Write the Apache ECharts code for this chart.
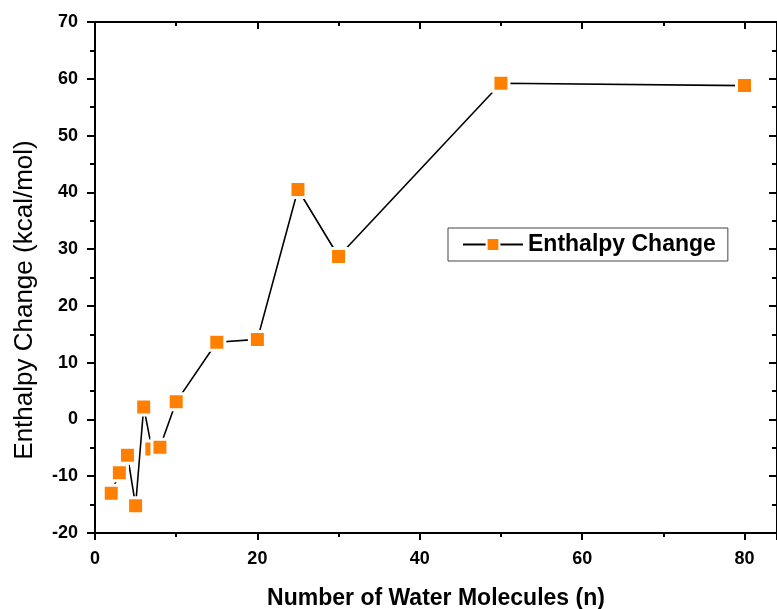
<!DOCTYPE html>
<html>
<head>
<meta charset="utf-8">
<script src="https://cdn.jsdelivr.net/npm/echarts@6/dist/echarts.min.js"></script>
<style>
  html, body { margin: 0; padding: 0; background: #fff; }
  #main { width: 777px; height: 609px; }
</style>
</head>
<body>
<div id="main"></div>
<script>
// 水分子数与焓变
var waterCount = [2, 3, 4, 5, 6, 7, 8, 10, 15, 20, 25, 30, 50, 80];
var enthalpy = [-13.0, -9.4, -6.3, -15.2, 2.2, -5.2, -4.9, 3.1, 13.6, 14.1, 40.5, 28.7, 59.2, 58.8];
var seriesName = 'Enthalpy Change';
var yTitle = 'Enthalpy Change (kcal/mol)';

var points = waterCount.map(function (n, i) { return [n, enthalpy[i]]; });

var font = 'Liberation Sans, Arial, sans-serif';
var axisLine = { show: true, onZero: false, lineStyle: { color: '#000', width: 2 } };

var myChart = echarts.init(document.getElementById('main'));
var option = {
    backgroundColor: '#fff',
    animation: false,
    grid: { left: 95, right: 0, top: 22, bottom: 76, outerBoundsMode: 'none' },
    // y轴标题偏下，用graphic单独画
    graphic: [{
        type: 'text',
        x: 25, y: 300,
        rotation: Math.PI / 2,
        style: {
            text: yTitle,
            fill: '#000',
            font: '26px ' + font,
            align: 'center',
            verticalAlign: 'middle'
        }
    }],
    legend: {
        left: 448, top: 228,
        data: [seriesName],
        itemWidth: 60, itemHeight: 16, itemGap: 0,
        padding: [5, 12, 5, 14],
        borderColor: '#444', borderWidth: 1,
        backgroundColor: '#fff',
        textStyle: { color: '#000', fontSize: 23, fontWeight: 'bold', fontFamily: font }
    },
    xAxis: [{
        type: 'value', position: 'bottom',
        min: 0, max: 84, interval: 20,
        name: 'Number of Water Molecules (n)',
        nameLocation: 'middle', nameGap: 54,
        nameTextStyle: { color: '#000', fontSize: 23, fontWeight: 'bold', fontFamily: font },
        axisLine: axisLine,
        axisTick: { show: true, inside: false, length: 7, lineStyle: { color: '#000', width: 2 } },
        minorTick: { show: true, splitNumber: 2, length: 4, lineStyle: { color: '#000', width: 2 } },
        axisLabel: { color: '#000', fontSize: 18, fontWeight: 'bold', fontFamily: font, margin: 17, showMaxLabel: false },
        splitLine: { show: false }
    }, {
        type: 'value', position: 'top',
        min: 0, max: 84, interval: 20,
        axisLine: axisLine,
        axisTick: { show: true, inside: true, length: 7, lineStyle: { color: '#000', width: 2 } },
        minorTick: { show: true, splitNumber: 2, length: 4, lineStyle: { color: '#000', width: 2 } },
        axisLabel: { show: false },
        splitLine: { show: false }
    }],
    yAxis: [{
        type: 'value', position: 'left',
        min: -20, max: 70, interval: 10,
        axisLine: axisLine,
        axisTick: { show: true, inside: false, length: 8, lineStyle: { color: '#000', width: 2 } },
        minorTick: { show: true, splitNumber: 2, length: 5, lineStyle: { color: '#000', width: 2 } },
        axisLabel: { color: '#000', fontSize: 18, fontWeight: 'bold', fontFamily: font, margin: 17 },
        splitLine: { show: false }
    }, {
        type: 'value', position: 'right',
        min: -20, max: 70, interval: 10,
        axisLine: axisLine,
        axisTick: { show: true, inside: true, length: 8, lineStyle: { color: '#000', width: 2 } },
        minorTick: { show: true, splitNumber: 2, length: 5, lineStyle: { color: '#000', width: 2 } },
        axisLabel: { show: false },
        splitLine: { show: false }
    }],
    series: [{
        name: seriesName,
        type: 'line',
        data: points,
        symbol: 'rect',
        symbolSize: 16,
        lineStyle: { color: '#000', width: 1.6 },
        itemStyle: { color: '#ff8000', borderColor: '#fff', borderWidth: 3 }
    }]
};

myChart.setOption(option);
</script>
</body>
</html>
